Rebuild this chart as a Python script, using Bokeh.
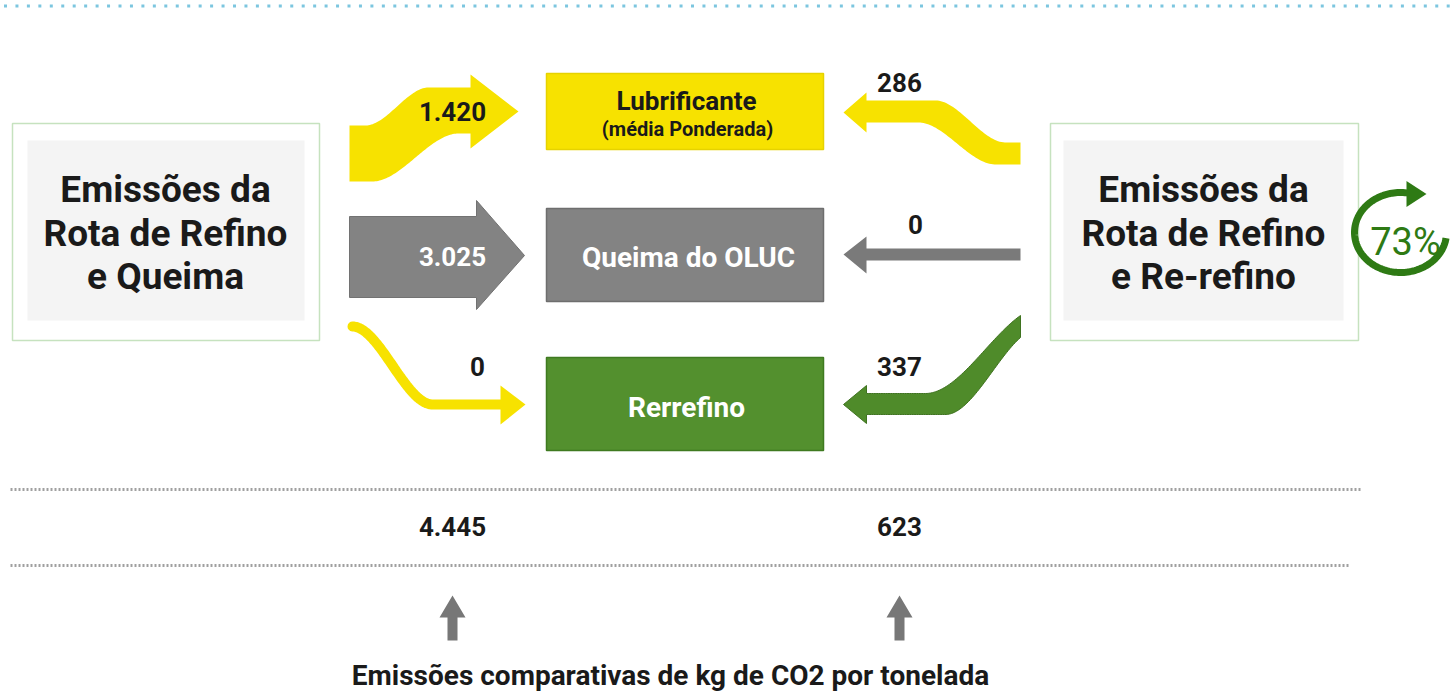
import numpy as np
from bokeh.plotting import figure
from bokeh.models import Range1d
from bokeh.embed import file_html
from bokeh.resources import INLINE
from bokeh.core.properties import value

# ---------------- data ----------------
categories = ["Lubrificante", "Queima do OLUC", "Rerrefino"]
category_subtitles = ["(média Ponderada)", "", ""]
route_left_title = ["Emissões da", "Rota de Refino", "e Queima"]
route_right_title = ["Emissões da", "Rota de Refino", "e Re-refino"]
refino_queima = [1420, 3025, 0]          # kg CO2 / t, route Refino + Queima
refino_rerrefino = [286, 0, 337]         # kg CO2 / t, route Refino + Re-refino
reduction_label = "73%"
footer_text = "Emissões comparativas de kg de CO2 por tonelada"

totals = [sum(refino_queima), sum(refino_rerrefino)]


def fmt(v):
    return f"{v:,}".replace(",", ".")


FONT = value("Roboto")
YELLOW = "#f7e200"
GRAY = "#838383"
GREEN = "#53902e"
DARKGREEN = "#2e7a14"
INK = "#1a1a1a"

W, H = 1453, 693
p = figure(width=W, height=H, x_range=Range1d(0, W), y_range=Range1d(H, 0),
           output_backend="svg", toolbar_location=None, min_border=0,
           x_axis_type=None, y_axis_type=None)
p.grid.visible = False
p.outline_line_color = None
p.background_fill_color = "white"


def ss(t):
    t = np.clip(t, 0, 1)
    return 3 * t ** 2 - 2 * t ** 3


def edge(x, x0, x1, y0, y1):
    return y0 + (y1 - y0) * ss((x - x0) / (x1 - x0))


# top decorative dotted line
dx = np.arange(5, W, 11.45)
p.rect(x=dx, y=[5.5] * len(dx), width=3, height=3, fill_color="#7cc6df", line_color=None)

# side route boxes
p.quad(left=[12, 1050], right=[319, 1358], top=[123, 123], bottom=[340, 340],
       fill_color="white", line_color="#c6e2bf", line_width=1.5)
p.quad(left=[27, 1063], right=[304, 1343], top=[140, 140], bottom=[320, 320],
       fill_color="#f4f4f4", line_color=None)
line_y = [189, 233, 276]
p.text(x=[165] * 3, y=line_y, text=route_left_title, text_font=FONT, text_font_style="bold",
       text_font_size="37px", text_align="center", text_baseline="middle", text_color=INK)
p.text(x=[1203] * 3, y=line_y, text=route_right_title, text_font=FONT, text_font_style="bold",
       text_font_size="37px", text_align="center", text_baseline="middle", text_color=INK)

# middle category boxes
box_top = [73, 208, 357]
box_bot = [149, 301, 450]
p.quad(left=[546] * 3, right=[823] * 3, top=box_top, bottom=box_bot,
       fill_color=[YELLOW, GRAY, GREEN], line_color=["#e6d200", "#6e6e6e", "#3f7a20"], line_width=1.5)
p.text(x=[686], y=[100], text=[categories[0]], text_font=FONT, text_font_style="bold",
       text_font_size="26px", text_align="center", text_baseline="middle", text_color=INK)
p.text(x=[687], y=[128], text=[category_subtitles[0]], text_font=FONT, text_font_style="bold",
       text_font_size="20px", text_align="center", text_baseline="middle", text_color=INK)
p.text(x=[688, 686], y=[257, 407], text=categories[1:], text_font=FONT, text_font_style="bold",
       text_font_size="28px", text_align="center", text_baseline="middle", text_color="white")

# ---- left arrows ----
xs = np.linspace(349, 470, 90)
top = edge(xs, 365, 428, 125, 87)
bot = edge(xs, 372, 458, 181, 133)
px = list(xs) + [470, 518, 470] + list(xs[::-1])
py = list(top) + [74, 111, 148] + list(bot[::-1])
p.patch(px, py, fill_color=YELLOW, line_color=None)

p.patch([349, 476, 476, 524, 476, 476, 349], [216, 216, 200, 255, 309, 297, 297],
        fill_color=GRAY, line_color="#727272", line_width=1)

xs = np.linspace(352, 502, 90)
p.line(xs, edge(xs, 352, 432, 326, 404), line_color=YELLOW, line_width=10, line_cap="round")
p.patch([500, 525, 500], [385, 404, 424], fill_color=YELLOW, line_color=None)

p.text(x=[452, 452, 477], y=[111, 256, 366], text=[fmt(v) for v in refino_queima],
       text_font=FONT, text_font_style="bold", text_font_size="26px", text_align="center",
       text_baseline="middle", text_color=[INK, "white", INK])

# ---- right arrows ----
xs = np.linspace(866, 1020, 90)
top = edge(xs, 935, 1005, 100, 142)
bot = edge(xs, 918, 995, 122, 164)
px = [843, 866] + list(xs) + list(xs[::-1]) + [866]
py = [112, 92] + list(top) + list(bot[::-1]) + [132]
p.patch(px, py, fill_color=YELLOW, line_color=None)

p.patch([843, 866, 866, 1020, 1020, 866, 866], [254, 236, 248, 248, 260, 260, 273],
        fill_color="#7a7a7a", line_color=None)


def edge_p(x, x0, x1, y0, y1, f=0.8):
    t = np.clip((x - x0) / (x1 - x0), 0, 1) * f
    return y0 + (y1 - y0) * ss(t) / ss(f)


top = edge_p(xs, 925, 1020, 393, 315)
bot = edge_p(xs, 945, 1020, 414, 337)
px = [843, 866] + list(xs) + list(xs[::-1]) + [866]
py = [404, 385] + list(top) + list(bot[::-1]) + [423]
p.patch(px, py, fill_color="#4f8b2a", line_color="#3f7320", line_width=1)

p.text(x=[899, 915, 899], y=[82, 224, 366], text=[fmt(v) for v in refino_rerrefino],
       text_font=FONT, text_font_style="bold", text_font_size="26px", text_align="center",
       text_baseline="middle", text_color=INK)

# ---- 73% circular arrow ----
cx, cy, rx, ry = 1400, 232, 46, 40
th = np.radians(np.linspace(-8, -280, 120))
p.line(cx + rx * np.cos(th), cy - ry * np.sin(th), line_color=DARKGREEN, line_width=7)
ex, ey = cx + rx * np.cos(th[-1]), cy - ry * np.sin(th[-1])
p.patch([ex - 2, ex + 18, ex - 2], [ey - 12, ey + 1, ey + 14], fill_color=DARKGREEN, line_color=None)
p.text(x=[cx + 5], y=[cy + 9], text=[reduction_label], text_font=FONT, text_font_size="38px",
       text_align="center", text_baseline="middle", text_color=DARKGREEN)

# ---- totals ----
p.line([10, 1360], [489, 489], line_color="#a0a0a0", line_width=3, line_dash="2 2")
p.line([10, 1350], [565, 565], line_color="#a0a0a0", line_width=3, line_dash="2 2")
p.text(x=[452, 899], y=[526, 526], text=[fmt(v) for v in totals], text_font=FONT,
       text_font_style="bold", text_font_size="26px", text_align="center",
       text_baseline="middle", text_color=INK)

for ax in [452, 899]:
    p.patch([ax, ax + 13, ax + 5, ax + 5, ax - 5, ax - 5, ax - 13],
            [595, 617, 617, 640, 640, 617, 617], fill_color="#777777", line_color=None)

p.text(x=[670], y=[675], text=[footer_text], text_font=FONT, text_font_style="bold",
       text_font_size="28px", text_align="center", text_baseline="middle", text_color=INK)

open("out.html", "w").write(file_html(p, INLINE))
